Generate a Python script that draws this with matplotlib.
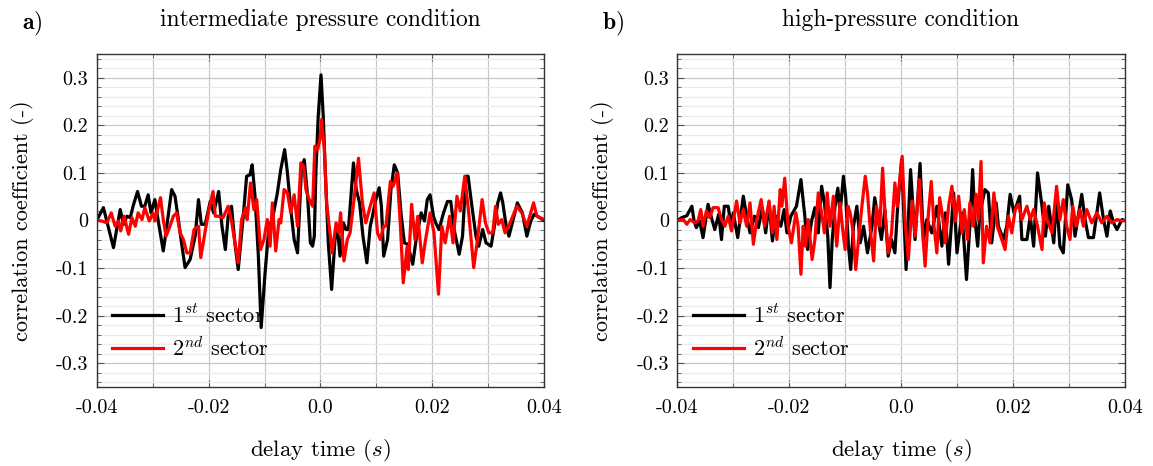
import numpy as np
import matplotlib
matplotlib.use("Agg")
import matplotlib.pyplot as plt
from matplotlib.ticker import MultipleLocator, FixedLocator

plt.rcParams['font.family'] = 'serif'
plt.rcParams['font.serif'] = ['cmr10']
plt.rcParams['mathtext.fontset'] = 'cm'
plt.rcParams['axes.unicode_minus'] = False

# ---------------- data (delay time in ms, correlation coefficient) ----------------
# panel a) intermediate pressure condition
lb_t = [-40.0, -38.8, -37.0, -35.8, -35.2, -34.6, -34.0, -33.5, -32.7, -32.0, -31.4, -30.8, -30.3, -29.6, -29.0,
        -28.1, -27.5, -26.6, -26.0, -25.4, -24.8, -24.2, -23.3, -22.4, -21.8, -21.3, -20.6, -19.7, -19.1, -18.2,
        -17.6, -17.0, -16.5, -15.9, -15.3, -14.7, -13.8, -13.2, -12.6, -12.2, -11.7, -11.1, -10.6, -9.9, -9.2,
        -8.6, -7.7, -7.1, -6.4, -5.9, -5.3, -4.7, -4.1, -3.8, -3.4, -2.9, -2.3, -1.8, -1.4, -1.1, -0.8, -0.4, 0.1,
        0.5, 0.9, 1.4, 2.0, 2.6, 3.0, 3.5, 4.1, 4.6, 5.0, 5.5, 5.9, 6.4, 7.0, 7.6, 8.3, 8.9, 9.3, 9.9, 10.5, 10.9,
        11.3, 12.0, 12.6, 13.2, 13.8, 14.4, 15.0, 15.6, 16.5, 17.1, 18.0, 18.6, 19.1, 19.6, 20.2, 20.6, 21.2, 22.0,
        22.7, 23.3, 23.9, 24.8, 25.4, 26.0, 26.4, 27.0, 27.8, 28.3, 29.0, 29.6, 30.5, 31.1, 31.7, 32.2, 32.6, 33.2,
        33.7, 34.3, 35.2, 36.1, 36.9, 37.6, 38.2, 38.8, 39.7, 40.0]
lb_y = [0.0, 0.027, -0.057, 0.023, -0.008, 0.009, 0.006, 0.030, 0.061, 0.030, 0.030, 0.054, 0.016, 0.044, -0.001,
        -0.064, -0.015, 0.065, 0.051, 0.002, -0.050, -0.099, -0.082, -0.033, 0.044, -0.008, -0.008, 0.040, 0.016,
        0.061, -0.012, -0.061, 0.009, 0.030, -0.047, -0.103, 0.009, 0.093, 0.096, 0.117, 0.051, -0.075, -0.225,
        -0.110, -0.012, 0.002, 0.058, 0.107, 0.149, 0.100, 0.023, -0.040, -0.068, 0.009, 0.107, 0.128, 0.051,
        -0.047, -0.054, -0.033, 0.107, 0.219, 0.306, 0.219, 0.093, -0.047, -0.145, -0.040, -0.012, -0.075, -0.005,
        -0.019, -0.019, 0.058, 0.121, 0.065, 0.037, -0.033, -0.089, -0.012, 0.009, 0.044, 0.069, 0.030, -0.075,
        -0.040, 0.065, 0.117, 0.100, 0.016, -0.047, -0.050, -0.092, -0.040, 0.016, -0.001, 0.044, 0.054, 0.009,
        -0.005, -0.019, 0.016, 0.040, 0.040, -0.019, -0.071, -0.033, 0.093, 0.093, 0.037, -0.033, -0.054, -0.019,
        -0.047, -0.054, -0.012, 0.037, 0.058, 0.037, -0.012, -0.033, -0.005, 0.037, 0.016, -0.033, -0.001, 0.013,
        0.009, 0.002, 0.0]
lr_t = [-40.0, -39.1, -38.2, -37.4, -36.7, -36.1, -35.7, -35.1, -34.3, -33.7, -33.1, -32.6, -31.9, -31.4, -30.6,
        -29.9, -29.6, -28.6, -28.1, -27.6, -26.9, -26.3, -25.7, -25.1, -24.5, -23.9, -23.3, -22.6, -21.8, -21.4,
        -20.6, -20.0, -19.2, -18.8, -18.2, -17.4, -16.5, -15.9, -14.7, -14.1, -13.4, -13.1, -12.5, -11.9, -11.4,
        -10.7, -10.1, -9.5, -9.0, -8.6, -8.0, -7.4, -7.1, -6.5, -5.9, -5.3, -4.7, -4.1, -3.5, -3.0, -2.6, -2.0,
        -1.4, -1.0, -0.5, -0.1, 0.2, 0.7, 1.1, 1.7, 2.1, 2.8, 3.3, 3.6, 4.2, 4.8, 5.3, 6.0, 6.8, 7.5, 8.1, 8.9,
        9.6, 10.2, 10.7, 11.3, 11.7, 12.5, 13.0, 13.7, 14.3, 14.8, 15.5, 15.7, 16.3, 16.9, 17.4, 18.2, 18.7, 19.6,
        20.3, 21.1, 21.7, 22.3, 23.1, 23.7, 24.4, 25.0, 25.8, 26.5, 27.4, 28.0, 28.9, 29.5, 30.1, 30.8, 31.3, 31.8,
        32.4, 33.0, 33.9, 35.1, 36.0, 36.9, 38.1, 38.7, 40.0]
lr_y = [0.0, -0.001, -0.005, 0.016, -0.012, -0.001, -0.022, 0.009, -0.029, 0.006, -0.012, 0.016, 0.002, 0.027,
        -0.001, 0.016, -0.001, 0.048, 0.002, -0.033, -0.012, 0.009, 0.016, -0.026, -0.040, -0.068, -0.068, -0.019,
        -0.012, -0.078, -0.022, 0.019, 0.061, 0.009, 0.009, 0.006, 0.030, -0.001, -0.089, 0.002, 0.027, 0.002,
        0.079, 0.023, 0.044, -0.061, -0.040, 0.002, -0.054, 0.037, -0.064, 0.002, -0.005, 0.065, 0.058, 0.016,
        0.054, -0.012, 0.121, 0.114, 0.065, 0.044, 0.030, 0.156, 0.149, 0.170, 0.212, 0.149, 0.037, -0.026, -0.068,
        -0.005, -0.026, 0.016, -0.085, -0.040, -0.026, 0.044, 0.131, 0.037, -0.005, 0.030, 0.058, -0.026, -0.040,
        -0.012, -0.012, 0.082, 0.072, 0.100, -0.012, -0.131, -0.054, -0.103, 0.034, -0.040, 0.009, -0.089, -0.047,
        0.016, -0.026, -0.155, -0.012, -0.047, 0.009, -0.047, 0.051, 0.020, 0.093, 0.016, -0.099, -0.047, 0.044,
        -0.005, -0.026, -0.026, 0.030, -0.008, 0.002, -0.026, -0.005, 0.030, 0.016, -0.012, 0.037, 0.009, 0.002]

# panel b) high-pressure condition
rb_t = [-40.0, -39.2, -38.3, -37.4, -37.0, -36.6, -36.0, -35.4, -34.5, -33.9, -33.3, -32.6, -32.1, -31.6, -30.9,
        -30.4, -30.0, -29.2, -28.2, -27.6, -27.0, -26.2, -25.5, -24.8, -24.2, -23.6, -23.0, -22.4, -21.5, -20.9,
        -20.4, -19.7, -18.7, -17.9, -17.2, -16.7, -16.0, -15.4, -14.8, -14.2, -13.7, -13.1, -12.7, -12.3, -11.8,
        -11.3, -10.9, -10.3, -9.9, -9.4, -9.0, -8.5, -7.9, -7.3, -6.7, -6.0, -5.2, -4.7, -4.1, -3.5, -2.9, -2.3,
        -1.7, -1.1, -0.6, 0.1, 0.9, 1.7, 2.5, 3.4, 4.0, 4.6, 5.5, 6.4, 7.3, 7.9, 8.5, 9.4, 10.0, 10.9, 11.7, 12.3,
        12.8, 13.2, 13.7, 14.1, 15.0, 15.6, 16.2, 17.0, 17.4, 18.3, 18.9, 19.5, 20.2, 21.2, 21.6, 22.5, 23.1, 23.7,
        24.4, 25.2, 25.8, 26.4, 27.3, 27.8, 28.4, 29.0, 29.8, 30.5, 31.1, 32.3, 32.9, 33.5, 34.4, 35.5, 36.2, 36.8,
        37.4, 38.0, 38.6, 39.5, 40.0]
rb_y = [0.0, 0.006, 0.010, 0.030, -0.001, -0.015, -0.001, -0.036, 0.034, 0.006, -0.019, 0.013, -0.040, 0.030,
        0.030, -0.012, 0.016, -0.036, 0.051, 0.009, -0.026, 0.009, -0.015, 0.027, -0.026, 0.037, -0.043, 0.009,
        -0.012, 0.023, -0.026, 0.009, 0.030, 0.086, 0.009, -0.061, -0.001, 0.027, -0.026, 0.072, 0.037, -0.033,
        -0.141, -0.040, 0.030, 0.068, 0.016, 0.093, 0.051, -0.054, -0.103, -0.012, 0.030, -0.047, -0.012, -0.068,
        -0.012, 0.048, 0.002, -0.040, 0.023, -0.075, -0.040, -0.068, 0.030, 0.128, -0.103, 0.107, -0.040, 0.120,
        -0.040, 0.002, -0.026, 0.030, -0.054, 0.016, -0.092, 0.058, -0.068, 0.016, -0.124, -0.012, 0.107, 0.002,
        -0.054, 0.016, 0.065, 0.058, -0.047, 0.037, -0.012, -0.040, -0.012, 0.055, 0.016, 0.051, -0.040, -0.040,
        0.009, -0.054, 0.100, 0.030, -0.033, 0.030, -0.047, 0.048, -0.054, -0.068, 0.075, 0.044, -0.033, 0.055,
        0.002, -0.036, -0.036, 0.058, 0.002, -0.033, 0.020, -0.005, -0.019, 0.002, 0.0]
rr_t = [-40.0, -38.9, -38.3, -37.7, -36.9, -36.3, -35.8, -35.4, -34.8, -34.2, -33.6, -32.7, -32.1, -31.5, -30.9,
        -30.3, -29.4, -28.8, -28.2, -27.6, -27.0, -26.4, -25.8, -25.0, -24.4, -23.6, -23.0, -22.7, -22.2, -21.6,
        -21.3, -20.8, -20.2, -19.6, -18.8, -18.4, -17.9, -17.5, -17.1, -16.6, -15.9, -15.4, -14.8, -14.2, -13.7,
        -13.2, -12.7, -12.1, -11.5, -10.9, -10.5, -10.0, -9.5, -9.1, -8.6, -8.1, -7.6, -7.0, -6.4, -6.0, -5.5,
        -4.9, -4.4, -3.8, -3.3, -2.9, -2.3, -1.7, -1.1, -0.7, 0.2, 0.7, 1.3, 2.0, 2.5, 3.3, 3.7, 4.3, 4.9, 5.4,
        5.9, 6.4, 6.9, 7.5, 7.9, 8.5, 9.1, 9.7, 10.3, 10.9, 11.3, 11.9, 12.3, 12.9, 13.4, 13.8, 14.3, 14.7, 15.3,
        15.9, 16.6, 17.2, 17.8, 18.6, 19.2, 19.8, 20.4, 21.0, 21.6, 22.5, 23.1, 23.7, 24.4, 25.2, 25.6, 26.1, 27.0,
        27.8, 28.4, 29.0, 29.6, 30.2, 30.7, 31.3, 32.0, 32.6, 33.2, 34.1, 35.0, 35.9, 36.8, 37.7, 38.6, 39.5, 40.0]
rr_y = [0.0, 0.002, -0.008, 0.002, -0.005, -0.001, 0.023, -0.012, 0.020, 0.006, 0.027, 0.027, 0.002, -0.012,
        0.009, -0.022, 0.041, -0.005, 0.023, -0.012, 0.037, -0.050, 0.002, 0.044, -0.012, 0.041, -0.026, 0.030,
        -0.040, 0.065, 0.030, 0.089, -0.012, -0.047, 0.016, -0.012, -0.113, -0.012, -0.054, 0.002, -0.082, -0.040,
        0.058, 0.016, -0.026, 0.058, -0.012, 0.051, -0.054, 0.037, -0.012, -0.061, 0.030, 0.016, -0.022, -0.103,
        -0.040, 0.030, 0.093, 0.058, -0.019, -0.085, 0.030, -0.012, 0.110, 0.023, -0.068, -0.026, 0.079, 0.030,
        0.135, 0.002, -0.082, 0.041, -0.033, 0.086, 0.002, -0.096, 0.016, 0.082, -0.012, -0.068, 0.048, 0.002,
        -0.047, 0.030, 0.072, -0.001, 0.051, -0.026, 0.023, -0.040, 0.037, -0.012, 0.055, 0.002, 0.124, -0.089,
        -0.012, -0.047, 0.058, -0.012, -0.033, -0.061, 0.009, -0.026, 0.023, 0.034, 0.002, 0.030, 0.002, 0.023,
        -0.012, -0.061, 0.037, 0.002, -0.026, 0.072, 0.002, 0.044, -0.012, -0.040, 0.030, -0.012, 0.023, -0.012,
        0.023, -0.005, 0.016, -0.005, 0.009, -0.005, 0.002, -0.001, 0.0]

panel_titles = ["intermediate pressure condition", "high-pressure condition"]
panel_tags = ["a)", "b)"]
series_labels = [r"$1^{st}$ sector", r"$2^{nd}$ sector"]
series_colors = ["black", "#ff0000"]
xtick_vals = [-0.04, -0.02, 0.0, 0.02, 0.04]
xtick_labels = ["-0.04", "-0.02", "0.0", "0.02", "0.04"]
ytick_vals = [0.3, 0.2, 0.1, 0.0, -0.1, -0.2, -0.3]
ytick_labels = ["0.3", "0.2", "0.1", "0", "-0.1", "-0.2", "-0.3"]

panels = [((lb_t, lb_y), (lr_t, lr_y)), ((rb_t, rb_y), (rr_t, rr_y))]

W, H = 1153, 466
fig = plt.figure(figsize=(W / 100, H / 100), dpi=100)

ax_lefts = [96.7, 677.3]
for i, (series, title, tag) in enumerate(zip(panels, panel_titles, panel_tags)):
    x0 = ax_lefts[i]
    ax = fig.add_axes([x0 / W, 1 - 387 / H, 447.5 / W, 333 / H])
    for (t, y), lab, col in zip(series, series_labels, series_colors):
        ax.plot(np.array(t) / 1000.0, y, color=col, lw=2.3, label=lab, solid_joinstyle='round')
    ax.set_xlim(-0.04, 0.04)
    ax.set_ylim(-0.35, 0.35)
    ax.set_xticks(xtick_vals)
    ax.set_xticklabels(xtick_labels, fontsize=14.5)
    ax.xaxis.set_minor_locator(FixedLocator([-0.03, -0.01, 0.01, 0.03]))
    ax.set_yticks(ytick_vals)
    ax.set_yticklabels(ytick_labels, fontsize=14.5)
    ax.yaxis.set_minor_locator(MultipleLocator(0.02))
    ax.grid(True, which='major', color='#c8c8c8', lw=0.9)
    ax.grid(True, which='minor', axis='y', color='#ebebeb', lw=0.9)
    ax.grid(True, which='minor', axis='x', color='#c8c8c8', lw=0.9)
    ax.set_axisbelow(True)
    ax.tick_params(which='both', direction='in', top=True, right=True, color='#555555')
    ax.tick_params(which='major', length=5, width=0.8)
    ax.tick_params(axis='x', which='major', pad=9)
    ax.tick_params(axis='y', which='major', pad=6)
    ax.tick_params(which='minor', length=3, width=0.6)
    for sp in ax.spines.values():
        sp.set_color('#333333')
        sp.set_linewidth(1.0)
    ax.set_xlabel(r"delay time ($s$)", fontsize=16.5, labelpad=14)
    ax.set_ylabel("correlation coefficient (-)", fontsize=16, labelpad=16)
    ax.set_title(title, fontsize=16.8, pad=20)
    leg = ax.legend(loc='lower left', bbox_to_anchor=(0.0, 0.035), frameon=False, fontsize=16,
                    handlelength=2.3, handletextpad=0.4, labelspacing=0.4, borderaxespad=0.3)
    fig.text((x0 - 75) / W, 1 - 24 / H, r"$\mathbf{" + tag + "}$", fontsize=17, ha='left', va='center')

fig.savefig("out.png", dpi=100)
